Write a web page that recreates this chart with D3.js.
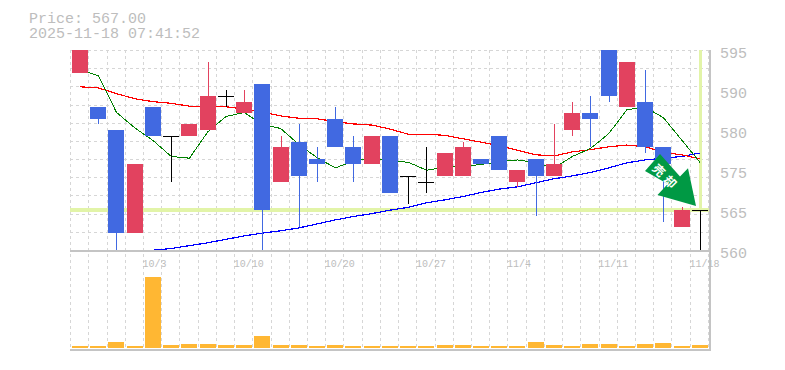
<!DOCTYPE html>
<html>
<head>
<meta charset="utf-8">
<script src="https://cdn.jsdelivr.net/npm/d3@7"></script>
<style>
  body { margin: 0; background: #fff; }
  svg { display: block; }
  text { font-family: "Liberation Mono", monospace; fill: #bdbdbd; }
</style>
</head>
<body>
<svg id="chart" width="785" height="370"></svg>
<script>
const dates = ["9/29","9/30","10/1","10/2","10/3","10/6","10/7","10/8","10/9","10/10","10/14","10/15","10/16","10/17","10/20","10/21","10/22","10/23","10/24","10/27","10/28","10/29","10/30","10/31","11/4","11/5","11/6","11/7","11/10","11/11","11/12","11/13","11/14","11/17","11/18"];
const opens = [591,585,581,563,585,580,580,581,587,584,589,572,579,576,583,578,575,580,573,572,573,573,576,580,572,576,573,581,584,595,585,586,578,564,567];
const closes = [595,583,563,575,580,580,582,587,587,586,567,578,573,575,578,575,580,570,573,572,577,578,575,574,574,573,575,584,583,587,593,578,575,567,567];
const highs = [595,585,581,575,585,580,582,593,588,588,589,580,582,578,585,580,580,580,573,578,577,579,576,580,574,576,582,586,587,595,593,591.5,578,567.5,567];
const lows = [591,582,560,563,580,572,580,581,585,584,560,572,564,572,578,572,575,570,568,570,573,573,575,574,571,566,573,580,578,586,585,577,565,564,560];
const volumes = [20,20,60,20,710,30,40,40,30,30,120,30,30,20,30,20,20,20,20,20,30,30,20,20,20,60,30,20,40,40,20,40,50,20,30];
const maShort = [591.6,590.5,584.1,581.4,579.2,576.4,576.1,580.7,583.4,584.1,582,581.3,578.5,576.2,574.4,575.6,576.1,575.6,575.4,574,574.5,574.7,575,575.5,575.8,575.3,574.4,576.4,577.8,580.4,584.6,585,583.2,579.3,575.4];
const maMid = [588.6,588.4,587.4,586.5,586,585.7,585.2,585.1,585.1,584.7,584.2,583.5,583.1,583,582.5,582.1,581.9,581.2,580.3,580.3,580.1,579.5,578.9,578.3,577.5,576.7,576.5,577.2,577.6,578.1,578.4,578.1,577.1,576.7,576];
const maLong = [null,null,null,null,560,560.3,560.8,561.3,561.9,562.5,563,563.4,563.9,564.6,565.3,565.9,566.4,567,567.5,568.3,568.8,569.4,570.1,570.7,571.1,571.8,572.5,573,573.6,574.4,575.3,575.8,576.1,576.4,577];
const priceTicks = [560,567,574,581,588,595];
const priceLabels = ["560","565","575","580","590","595"];
const dateTicks = ["10/3","10/10","10/20","10/27","11/4","11/11","11/18"];
const lastPrice = 567;
const lastDate = "11/18";
const arrowText = "売却";

const RED = "#e2425f", BLUE = "#4169e1", GRID = "#d6d6d6", AXIS = "#c4c4c4", MARK = "#e2f4a8";
const svg = d3.select("#chart");

const x = d3.scaleBand().domain(dates).range([71, 709]);
const y = d3.scaleLinear().domain([560, 595]).range([250.2, 50.2]);
const yVol = d3.scaleLinear().domain([0, 710]).range([348, 277]);
const bodyX = (i) => Math.round(x(dates[i]) + 1);

// grid, 35 columns by 11 rows
const gridX = d3.scaleLinear().domain([0, 35]).range([70.6, 708.4]);
const gridY = d3.scaleLinear().domain([0, 11]).range([50.5, 250.5]);
const grid = svg.append("g").attr("stroke", GRID).attr("stroke-dasharray", "3,3").attr("shape-rendering", "crispEdges");
grid.selectAll("line.v").data(d3.range(36)).enter().append("line")
  .attr("x1", (d) => Math.floor(gridX(d)) + 0.5).attr("x2", (d) => Math.floor(gridX(d)) + 0.5)
  .attr("y1", 50).attr("y2", 350);
grid.selectAll("line.h").data(d3.range(12)).enter().append("line")
  .attr("x1", 70).attr("x2", 709)
  .attr("y1", (d) => Math.floor(gridY(d)) + 0.5).attr("y2", (d) => Math.floor(gridY(d)) + 0.5);

// current price marker
svg.append("line").attr("x1", 70).attr("x2", 710).attr("y1", y(lastPrice)).attr("y2", y(lastPrice))
  .attr("stroke", MARK).attr("stroke-width", 3.5).attr("shape-rendering", "crispEdges");
svg.append("line").attr("x1", x(lastDate) + 9.5).attr("x2", x(lastDate) + 9.5).attr("y1", 50).attr("y2", y(lastPrice))
  .attr("stroke", MARK).attr("stroke-width", 3).attr("shape-rendering", "crispEdges");

// moving averages
const line = d3.line()
  .defined((d) => d != null)
  .x((d, i) => x(dates[i]) + x.bandwidth() / 2)
  .y((d) => y(d));
[[maLong, "#0000ff", 1.2], [maMid, "#ff0000", 1.2], [maShort, "#008000", 1]].forEach(([s, c, w]) => {
  svg.append("path").attr("d", line(s)).attr("fill", "none").attr("stroke", c)
    .attr("stroke-width", w).attr("shape-rendering", "crispEdges");
});

// candles
const candles = svg.append("g").attr("shape-rendering", "crispEdges");
const colorOf = (i) => closes[i] === opens[i] ? "#000" : closes[i] > opens[i] ? RED : BLUE;
candles.selectAll("line.wick").data(dates).enter().append("line")
  .attr("x1", (d, i) => bodyX(i) + 8.5).attr("x2", (d, i) => bodyX(i) + 8.5)
  .attr("y1", (d, i) => y(highs[i])).attr("y2", (d, i) => y(lows[i]))
  .attr("stroke", (d, i) => colorOf(i));
candles.selectAll("rect.body").data(dates).enter().append("rect")
  .attr("x", (d, i) => bodyX(i))
  .attr("width", 16)
  .attr("y", (d, i) => y(Math.max(opens[i], closes[i])))
  .attr("height", (d, i) => Math.max(1, y(Math.min(opens[i], closes[i])) - y(Math.max(opens[i], closes[i]))))
  .attr("fill", (d, i) => colorOf(i));

// volume
svg.append("g").attr("shape-rendering", "crispEdges").selectAll("rect").data(volumes).enter().append("rect")
  .attr("x", (d, i) => bodyX(i)).attr("width", 16)
  .attr("y", (d) => yVol(d)).attr("height", (d) => yVol(0) - yVol(d))
  .attr("fill", "#ffb733");

// frame
const frame = svg.append("g").attr("stroke", AXIS).attr("stroke-width", 2).attr("shape-rendering", "crispEdges");
frame.append("line").attr("x1", 70).attr("x2", 711).attr("y1", 251).attr("y2", 251);
frame.append("line").attr("x1", 70).attr("x2", 711).attr("y1", 350).attr("y2", 350);
frame.append("line").attr("x1", 710).attr("x2", 710).attr("y1", 50).attr("y2", 351);

// axes
const yAxis = d3.axisRight(y).tickValues(priceTicks).tickSize(0).tickPadding(0)
  .tickFormat((d, i) => priceLabels[i]);
const gy = svg.append("g").attr("transform", "translate(720,0)").call(yAxis);
gy.select(".domain").remove();
gy.selectAll("text").attr("font-size", 15).attr("dy", 6.8).attr("font-family", null);

const xAxis = d3.axisBottom(x).tickValues(dateTicks).tickSize(0).tickPadding(0);
const gx = svg.append("g").attr("transform", "translate(0,258)").call(xAxis);
gx.select(".domain").remove();
gx.selectAll("text").attr("font-size", 10).attr("text-anchor", "start").attr("x", -10.5).attr("dy", 8.5).attr("font-family", null);

// header
svg.append("text").attr("x", 29).attr("y", 23).attr("font-size", 15).text("Price: 567.00");
svg.append("text").attr("x", 29).attr("y", 38).attr("font-size", 15).text("2025-11-18 07:41:52");

// arrow
const arrow = [[660,154],[680,176.5],[688,168.3],[696,206],[657.5,195],[667.7,184],[645,171]];
svg.append("polygon").attr("points", arrow.join(" ")).attr("fill", "#009944");
svg.append("text").attr("transform", "translate(666,177.5) rotate(45)")
  .attr("text-anchor", "middle").attr("dy", 4.5)
  .attr("font-size", 12).attr("font-weight", "bold").attr("letter-spacing", 4)
  .style("font-family", '"Noto Sans CJK JP"').style("fill", "#fff")
  .text(arrowText);
</script>
</body>
</html>
